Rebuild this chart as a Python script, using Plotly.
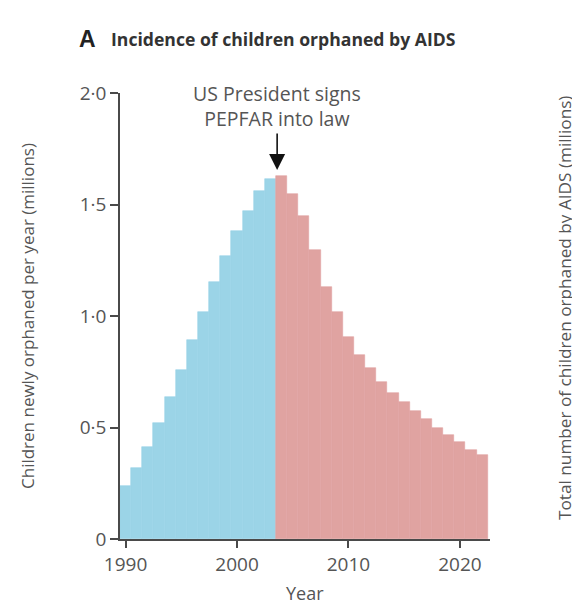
import plotly.graph_objects as go

years_before = list(range(1990, 2004))
values_before = [0.238, 0.32, 0.414, 0.519, 0.638, 0.756, 0.892, 1.017, 1.151, 1.27,
                 1.382, 1.471, 1.561, 1.614]
years_after = list(range(2004, 2023))
values_after = [1.63, 1.547, 1.448, 1.296, 1.131, 1.017, 0.907, 0.823, 0.765, 0.706,
                0.653, 0.616, 0.573, 0.54, 0.496, 0.466, 0.435, 0.4, 0.377]

y_tickvals = [0, 0.5, 1.0, 1.5, 2.0]
y_ticktext = ["0", "0·5", "1·0", "1·5", "2·0"]
x_tickvals = [1990, 2000, 2010, 2020]

BLUE = "#9BD4E7"
RED = "#E0A3A1"
AX = "#4a4a4a"
TXT = "#555555"
FONT = "Open Sans"

fig = go.Figure()
fig.add_trace(go.Bar(x=years_before, y=values_before, width=1,
                     marker=dict(color=BLUE, line=dict(width=0.6, color=BLUE)),
                     showlegend=False, hoverinfo="x+y"))
fig.add_trace(go.Bar(x=years_after, y=values_after, width=1,
                     marker=dict(color=RED, line=dict(width=0.6, color=RED)),
                     showlegend=False, hoverinfo="x+y"))

fig.update_layout(
    width=572, height=598,
    margin=dict(l=112, r=90, t=85, b=67, autoexpand=False),
    paper_bgcolor="white", plot_bgcolor="white",
    bargap=0,
    font=dict(family=FONT, color=TXT, size=17),
    xaxis=dict(range=[1989.5, 2022.7], tickvals=x_tickvals, ticks="outside",
               ticklen=7, tickwidth=1.5, tickcolor=AX, showline=True,
               linecolor=AX, linewidth=1.5, showgrid=False, zeroline=False,
               automargin=False,
               tickfont=dict(family=FONT, size=19, color=TXT)),
    yaxis=dict(range=[0, 2.0], tickvals=y_tickvals, ticktext=y_ticktext,
               ticks="outside", ticklen=8, tickwidth=1.5, tickcolor=AX,
               showline=True, linecolor=AX, linewidth=1.5, showgrid=False,
               zeroline=False, automargin=False,
               tickfont=dict(family=FONT, size=19, color=TXT)),
)

# Title
fig.add_annotation(xref="paper", yref="paper", x=-0.115, y=1.0, yshift=54,
                   xanchor="left", yanchor="middle", showarrow=False,
                   text="<b>A</b>", font=dict(family="Liberation Sans", size=23, color="#222"))
fig.add_annotation(xref="paper", yref="paper", x=-0.03, y=1.0, yshift=54,
                   xanchor="left", yanchor="middle", showarrow=False,
                   text="<b>Incidence of children orphaned by AIDS</b>",
                   font=dict(family=FONT, size=17.6, color="#333"))

# Axis titles
fig.add_annotation(xref="paper", yref="paper", x=0.5, y=0, yshift=-54,
                   showarrow=False, xanchor="center", yanchor="middle",
                   text="Year", font=dict(family=FONT, size=18, color=TXT))
fig.add_annotation(xref="paper", yref="paper", x=0, xshift=-93, y=0.5,
                   textangle=-90, showarrow=False, xanchor="center", yanchor="middle",
                   text="Children newly orphaned per year (millions)",
                   font=dict(family=FONT, size=17, color=TXT))
fig.add_annotation(xref="paper", yref="paper", x=1, xshift=75, y=0.518,
                   textangle=-90, showarrow=False, xanchor="center", yanchor="middle",
                   text="Total number of children orphaned by AIDS (millions)",
                   font=dict(family=FONT, size=17.2, color=TXT))

# PEPFAR annotation
fig.add_annotation(x=2003.6, y=1.94, xref="x", yref="y", showarrow=False,
                   text="US President signs<br>PEPFAR into law",
                   font=dict(family=FONT, size=19.5, color=TXT),
                   xanchor="center", yanchor="middle")
fig.add_annotation(x=2003.6, y=1.655, xref="x", yref="y", showarrow=True,
                   ax=0, ay=-38, arrowhead=2, arrowsize=2, arrowwidth=1.6,
                   arrowcolor="#111", text="")

fig.write_html("out.html")
